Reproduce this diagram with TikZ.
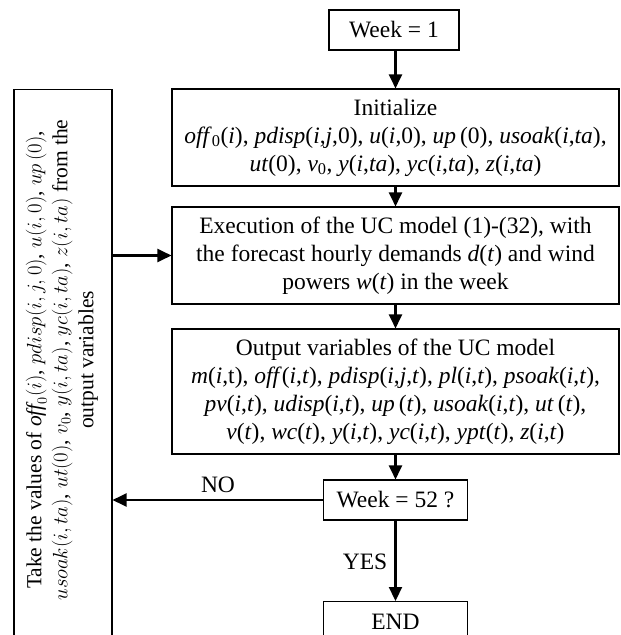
\documentclass[tikz,border=0pt]{standalone}
\usepackage{fontspec}
\setmainfont{Liberation Serif}
\usetikzlibrary{arrows.meta}
\newcommand{\V}[1]{\textit{#1}}
\newcommand{\sub}[1]{\textsubscript{#1}}
\tikzset{
  flowbox/.style={draw, line width=1.1pt, align=center, inner sep=0pt,
    font=\fontsize{23.5}{28}\selectfont},
  flowarrow/.style={line width=2.2pt, -{Triangle[length=14pt,width=13pt]}},
  flowlabel/.style={font=\fontsize{23.5}{28}\selectfont, inner sep=0pt}
}
\begin{document}
\begin{tikzpicture}[x=1pt,y=-1pt]
\useasboundingbox (0,0) rectangle (621,635);
\begin{scope}
\clip (0,0) rectangle (621,635);
% boxes
\node[flowbox, minimum width=130pt, minimum height=40pt] (w1) at (394,30) {Week = 1};
\node[flowbox, minimum width=447pt, minimum height=97pt] (init) at (395.5,137.5)
  {Initialize\\
   \V{off}\sub{0}(\V{i}), \V{pdisp}(\V{i},\V{j},0), \V{u}(\V{i},0), \V{up}\,(0), \V{usoak}(\V{i},\V{ta}),\\
   \V{ut}(0), \V{v}\sub{0}, \V{y}(\V{i},\V{ta}), \V{yc}(\V{i},\V{ta}), \V{z}(\V{i},\V{ta})};
\node[flowbox, minimum width=447pt, minimum height=97pt] (exec) at (395.5,255.5)
  {Execution of the UC model (1)-(32), with\\
   the forecast hourly demands \V{d}(\V{t}) and wind\\
   powers \V{w}(\V{t}) in the week};
\node[flowbox, minimum width=447pt, minimum height=125pt] (out) at (395.5,391.5)
  {Output variables of the UC model\\
   \V{m}(\V{i},t), \V{off}(\V{i},\V{t}), \V{pdisp}(\V{i},\V{j},\V{t}), \V{pl}(\V{i},\V{t}), \V{psoak}(\V{i},\V{t}),\\
   \V{pv}(\V{i},\V{t}), \V{udisp}(\V{i},\V{t}), \V{up}\,(\V{t}), \V{usoak}(\V{i},\V{t}), \V{ut}\,(\V{t}),\\
   \V{v}(\V{t}), \V{wc}(\V{t}), \V{y}(\V{i},\V{t}), \V{yc}(\V{i},\V{t}), \V{ypt}(\V{t}), \V{z}(\V{i},\V{t})};
\node[flowbox, minimum width=144pt, minimum height=40pt] (w52) at (395.5,500) {Week = 52 ?};
\node[flowbox, minimum width=144pt, minimum height=60pt, anchor=north] (end) at (395.5,601) {};
\node[flowlabel] (endtext) at (395.5,622) {END};
\node[flowbox, minimum width=98pt, minimum height=580pt, anchor=north] (take) at (63,89) {};
\node[flowlabel, rotate=90, align=center, font=\fontsize{21.5}{26}\selectfont] (taketext) at (62,360)
  {Take the values of $\mathit{off}_0(i)$, $pdisp(i,j,0)$, $u(i,0)$, $up\,(0)$,\\
   $usoak(i,ta)$, $ut(0)$, $v_0$, $y(i,ta)$, $yc(i,ta)$, $z(i,ta)$ from the\\
   output variables};
% arrows
\draw[flowarrow] (w1.south -| init.north) -- (init.north);
\draw[flowarrow] (init.south) -- (exec.north);
\draw[flowarrow] (exec.south) -- (out.north);
\draw[flowarrow] (out.south) -- (w52.north);
\draw[flowarrow] (w52.south) -- (end.north);
\draw[flowarrow] (w52.west) -- (w52.west -| take.east);
\draw[flowarrow] (exec.west -| take.east) -- (exec.west);
\node[flowlabel] (nolabel) at (218,485) {NO};
\node[flowlabel] (yeslabel) at (365,562) {YES};
\end{scope}
\end{tikzpicture}
\end{document}
